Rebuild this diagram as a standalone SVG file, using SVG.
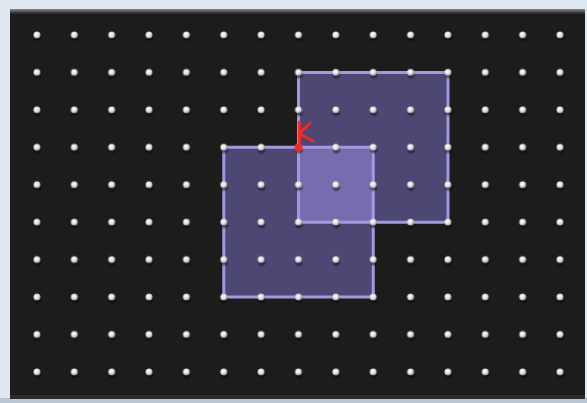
<svg xmlns="http://www.w3.org/2000/svg" width="587" height="403" viewBox="0 0 587 403">
  <defs>
    <radialGradient id="pegG" cx="0.42" cy="0.38" r="0.65">
      <stop offset="0" stop-color="#ffffff"/>
      <stop offset="0.55" stop-color="#dedede"/>
      <stop offset="1" stop-color="#808080"/>
    </radialGradient>
    <radialGradient id="shG" cx="0.5" cy="0.5" r="0.5">
      <stop offset="0" stop-color="#000000" stop-opacity="0.8"/>
      <stop offset="1" stop-color="#000000" stop-opacity="0"/>
    </radialGradient>
    <linearGradient id="bevel" x1="0" y1="0" x2="0" y2="1">
      <stop offset="0" stop-color="#8a8a88"/>
      <stop offset="1" stop-color="#1e1c1b"/>
    </linearGradient>
    <pattern id="pegs" patternUnits="userSpaceOnUse" x="18.32" y="16.28" width="37.36" height="37.44">
      <ellipse cx="19.2" cy="21.8" rx="5" ry="4" fill="url(#shG)"/>
      <circle cx="18.68" cy="18.72" r="3.5" fill="url(#pegG)"/>
    </pattern>
    <style>
      .band { fill: none; stroke: #a29ae0; stroke-width: 3; stroke-linejoin: round; }
      .single { fill: #4c4773; }
      .overlap { fill: #776cae; }
      .red { stroke: #f02a2a; stroke-width: 3; stroke-linecap: round; fill: none; }
    </style>
  </defs>
  <rect x="0" y="0" width="587" height="403" fill="#dfe8f0"/>
  <rect x="0" y="398" width="587" height="5" fill="#b9c5d1"/>
  <g id="board">
    <rect x="10" y="9" width="575" height="390" fill="#1e1c1b"/>
    <rect x="10" y="9" width="575" height="5" fill="url(#bevel)"/>
    <rect x="10" y="395" width="575" height="4" fill="#2c2b2b"/>
  </g>
  <g id="squares">
    <rect id="squareA" class="single" x="298.52" y="72.44" width="149.44" height="149.76"/>
    <rect id="squareB" class="single" x="223.8" y="147.32" width="149.44" height="149.76"/>
    <rect id="overlap" class="overlap" x="298.52" y="147.32" width="74.72" height="74.88"/>
    <rect class="band" x="298.52" y="72.44" width="149.44" height="149.76"/>
    <rect class="band" x="223.8" y="147.32" width="149.44" height="149.76"/>
  </g>
  <rect id="pegGrid" x="18.32" y="16.28" width="560.4" height="374.4" fill="url(#pegs)"/>
  <g id="mark">
    <path class="red" d="M299.5 122 L299.5 144 M300 133 L310 123 M300 134 L313 141"/>
    <circle cx="298.52" cy="147.8" r="4" fill="#f02a2a"/>
  </g>
</svg>
